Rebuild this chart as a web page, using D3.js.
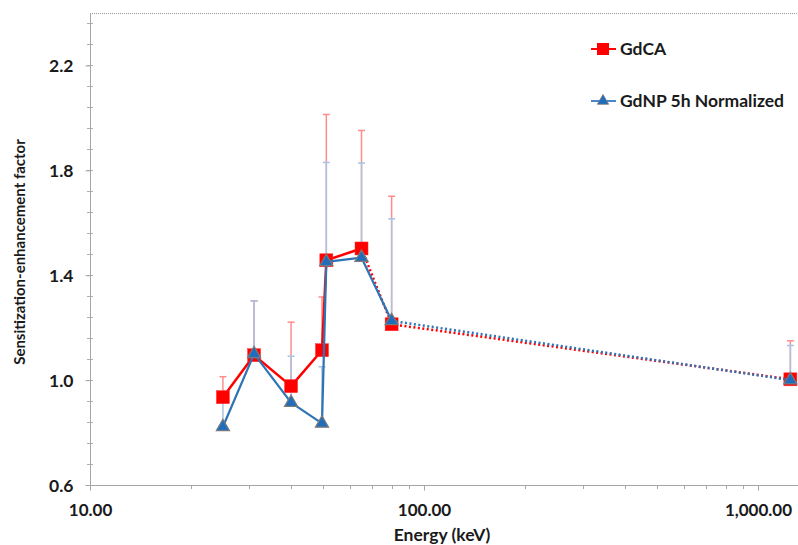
<!DOCTYPE html>
<html>
<head>
<meta charset="utf-8">
<script src="https://cdn.jsdelivr.net/npm/d3@7"></script>
<style>
  html, body { margin: 0; padding: 0; background: #fff; }
  svg { display: block; }
  text { font-family: Lato, "Open Sans", sans-serif; font-weight: bold; fill: #1a1a1a; }
</style>
</head>
<body>
<svg id="chart" width="798" height="545"></svg>
<script>
// ---- data ----
const energies = [25, 31, 40, 49.5, 51, 65, 80, 1250];
const gdcaValues = [0.935, 1.095, 0.977, 1.114, 1.457, 1.502, 1.213, 1.003];
const gdcaErrTop = [1.013, 1.302, 1.221, 1.317, 2.013, 1.952, 1.701, 1.150];
const gdnpValues = [0.822, 1.100, 0.914, 0.835, 1.451, 1.467, 1.226, 1.000];
const gdnpErrTop = [0.925, 1.302, 1.091, 1.051, 1.830, 1.828, 1.615, 1.132];
const gdcaSolidUntil = 5; // index of last point joined by solid line
const gdnpSolidUntil = 6;
const seriesNames = ["GdCA", "GdNP 5h Normalized"];
const yMajorTicks = [0.6, 1.0, 1.4, 1.8, 2.2];
const xMajorTicks = [10, 100, 1000];
const xTitle = "Energy (keV)";
const yTitle = "Sensitization-enhancement factor";

// ---- layout ----
const svg = d3.select("#chart");
const pLeft = 90, pTop = 13, pBottom = 485, pRight = 798;
const x = d3.scaleLog().domain([10, 1000]).range([90, 758]);
const y = d3.scaleLinear().domain([0.6, 2.4]).range([pBottom, pTop]);

const red = "#ff0000", blue = "#2f74b5";
const redErr = "#ff8c8c", blueErr = "#a9c3e3";

// top border (dotted)
svg.append("line").attr("x1", pLeft).attr("x2", pRight).attr("y1", pTop + 0.5).attr("y2", pTop + 0.5)
  .attr("stroke", "#9a9a9a").attr("stroke-width", 1).attr("stroke-dasharray", "1,1");

// y axis
const yMinor = d3.range(0, 23).map(i => +(0.6 + i * 0.08).toFixed(2));
svg.append("g").selectAll("line").data(yMinor).join("line")
  .attr("x1", pLeft - 3).attr("x2", pLeft + 3)
  .attr("y1", d => Math.round(y(d)) + 0.5).attr("y2", d => Math.round(y(d)) + 0.5)
  .attr("stroke", "#b0b0b0");
const yAxis = d3.axisLeft(y).tickValues(yMajorTicks).tickFormat(d3.format(".1f")).tickSize(5).tickPadding(12);
const gy = svg.append("g").attr("transform", `translate(${pLeft + 0.5},0)`).call(yAxis);
gy.select(".domain").attr("stroke", "#a6a6a6").attr("d", `M0,${pTop}V${pBottom}`);
gy.selectAll(".tick line").attr("stroke", "#a6a6a6");
gy.selectAll(".tick text").style("font-size", "17.5px").style("font-family", "Lato, sans-serif")
  .style("font-weight", "bold").attr("fill", "#1a1a1a").attr("dy", "0.35em");

// x axis
const xMinor = [];
[10, 100, 1000].forEach(b => { for (let k = 2; k <= 9; k++) { const v = b * k; if (x(v) <= pRight) xMinor.push(v); } });
svg.append("g").selectAll("line").data(xMinor).join("line")
  .attr("x1", d => Math.round(x(d)) + 0.5).attr("x2", d => Math.round(x(d)) + 0.5)
  .attr("y1", pBottom).attr("y2", pBottom + 4).attr("stroke", "#a6a6a6");
const xAxis = d3.axisBottom(x).tickValues(xMajorTicks).tickFormat(d3.format(",.2f")).tickSize(5).tickPadding(10);
const gx = svg.append("g").attr("transform", `translate(0,${pBottom + 0.5})`).call(xAxis);
gx.select(".domain").attr("stroke", "#a6a6a6").attr("d", `M${pLeft},0H${pRight}`);
gx.selectAll(".tick line").attr("stroke", "#a6a6a6");
gx.selectAll(".tick text").style("font-size", "17px").style("font-family", "Lato, sans-serif")
  .style("font-weight", "bold").attr("fill", "#1a1a1a").attr("dy", "0.9em");

// axis titles
svg.append("text").attr("x", 442).attr("y", 541).attr("text-anchor", "middle")
  .style("font-size", "17.5px").text(xTitle);
svg.append("text").attr("transform", `translate(25,252) rotate(-90)`).attr("text-anchor", "middle")
  .style("font-size", "15px").text(yTitle);

// error bars
function errBars(vals, tops, color) {
  const g = svg.append("g");
  energies.forEach((e, i) => {
    const cx = x(e);
    g.append("line").attr("x1", cx).attr("x2", cx).attr("y1", y(vals[i])).attr("y2", y(tops[i]))
      .attr("stroke", color).attr("stroke-width", 1.5);
    g.append("line").attr("x1", cx - 3.5).attr("x2", cx + 3.5).attr("y1", y(tops[i])).attr("y2", y(tops[i]))
      .attr("stroke", color).attr("stroke-width", 1.5);
  });
}
errBars(gdcaValues, gdcaErrTop, redErr);
errBars(gdnpValues, gdnpErrTop, blueErr);

const pts = vals => energies.map((e, i) => [x(e), y(vals[i])]);
const line = d3.line();

function drawSeries(vals, solidUntil, color, width) {
  const p = pts(vals);
  svg.append("path").attr("d", line(p.slice(0, solidUntil + 1)))
    .attr("fill", "none").attr("stroke", color).attr("stroke-width", width).attr("stroke-linejoin", "round");
  svg.append("path").attr("d", line(p.slice(solidUntil)))
    .attr("fill", "none").attr("stroke", color).attr("stroke-width", 2.5).attr("stroke-dasharray", "2,2.5");
  return p;
}
const redPts = drawSeries(gdcaValues, gdcaSolidUntil, red, 2.5);
svg.append("g").selectAll("rect").data(redPts).join("rect")
  .attr("x", d => d[0] - 6.5).attr("y", d => d[1] - 6.5).attr("width", 13).attr("height", 13)
  .attr("fill", red).attr("stroke", "#ff3030").attr("stroke-width", 0.5);

const bluePts = drawSeries(gdnpValues, gdnpSolidUntil, blue, 2.25);
const tri = d3.symbol().type(d3.symbolTriangle).size(75);
svg.append("g").selectAll("path").data(bluePts).join("path")
  .attr("transform", d => `translate(${d[0]},${d[1]})`).attr("d", tri)
  .attr("fill", "#1f6dbb").attr("stroke", "#7a7a7a").attr("stroke-width", 1.2);

// legend
const legend = svg.append("g");
const items = [
  { name: seriesNames[0], color: red, y: 49, marker: "square" },
  { name: seriesNames[1], color: "#4a86c8", y: 101, marker: "triangle" }
];
items.forEach(it => {
  legend.append("line").attr("x1", 591).attr("x2", 616).attr("y1", it.y).attr("y2", it.y)
    .attr("stroke", it.color).attr("stroke-width", 2);
  if (it.marker === "square") {
    legend.append("rect").attr("x", 597).attr("y", it.y - 6).attr("width", 12).attr("height", 12).attr("fill", red);
  } else {
    legend.append("path").attr("transform", `translate(603,${it.y})`).attr("d", d3.symbol().type(d3.symbolTriangle).size(55))
      .attr("fill", "#1f6dbb").attr("stroke", "#7a7a7a").attr("stroke-width", 0.8);
  }
  legend.append("text").attr("x", 620).attr("y", it.y).attr("dy", "0.36em")
    .style("font-size", "17.5px").text(it.name);
});
</script>
</body>
</html>
